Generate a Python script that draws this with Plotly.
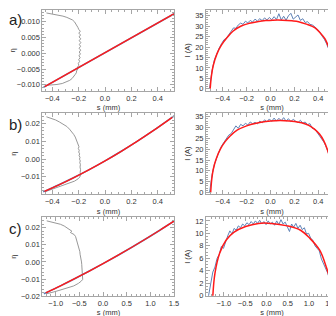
import plotly.graph_objects as go

# ---------------- data ----------------
# panel a, left: chirp line (blue data, red fit) and gray projected profile
a_line_s_blue = [-0.468, 0.532]
a_line_eta_blue = [-0.01084, 0.01274]
a_line_s_red = [-0.458, 0.522]
a_line_eta_red = [-0.0106, 0.0125]

a_gray_eta = [0.0128, 0.0125, 0.0122, 0.0118, 0.0114, 0.0110, 0.0106, 0.0100, 0.0094, 0.0088,
              0.0082, 0.0076, 0.0070, 0.0064, 0.0058, 0.0052, 0.0046, 0.0040, 0.0034, 0.0028,
              0.0022, 0.0016, 0.0010, 0.0004, -0.0002, -0.0008, -0.0014, -0.0020, -0.0026, -0.0032,
              -0.0038, -0.0044, -0.0050, -0.0056, -0.0062, -0.0068, -0.0074, -0.0080, -0.0086, -0.0092,
              -0.0096, -0.0099, -0.0101, -0.0102]
a_gray_s = [-0.445, -0.40, -0.36, -0.32, -0.29, -0.265, -0.248, -0.232, -0.222, -0.212,
            -0.206, -0.200, -0.188, -0.199, -0.186, -0.197, -0.185, -0.196, -0.184, -0.195,
            -0.186, -0.197, -0.185, -0.196, -0.187, -0.198, -0.189, -0.200, -0.193, -0.203,
            -0.199, -0.209, -0.207, -0.216, -0.218, -0.228, -0.238, -0.250, -0.268, -0.295,
            -0.325, -0.365, -0.41, -0.45]

# panel a, right: current profile
a_cur_s_blue = [-0.51, -0.49, -0.47, -0.45, -0.43, -0.41, -0.39, -0.37, -0.35, -0.33,
                -0.31, -0.29, -0.27, -0.25, -0.23, -0.21, -0.19, -0.17, -0.15, -0.13,
                -0.11, -0.09, -0.07, -0.05, -0.03, -0.01, 0.01, 0.03, 0.05, 0.07,
                0.09, 0.11, 0.13, 0.15, 0.17, 0.19, 0.21, 0.23, 0.25, 0.27,
                0.29, 0.31, 0.33, 0.35, 0.37, 0.39, 0.41, 0.43, 0.45, 0.47,
                0.49, 0.51, 0.53, 0.55, 0.562]
a_cur_I_blue = [0.2, 8.5, 13.8, 17.0, 19.5, 21.6, 23.5, 24.2, 26.0, 27.3,
                29.2, 29.0, 30.6, 31.5, 30.9, 32.4, 31.6, 32.8, 32.0, 33.4,
                32.5, 33.6, 32.7, 34.0, 33.0, 34.2, 33.1, 34.6, 33.2, 36.0,
                33.0, 34.8, 32.9, 35.0, 36.2, 33.4, 34.6, 35.4, 32.8, 33.6,
                31.8, 32.2, 30.9, 30.6, 29.8, 28.4, 27.5, 25.4, 23.8, 21.5,
                18.6, 14.5, 9.0, 2.5, 0.0]
a_cur_s_red = [-0.505, -0.495, -0.48, -0.45, -0.41, -0.36, -0.315, -0.25, -0.177, -0.1,
               -0.04, 0.02, 0.1, 0.18, 0.235, 0.3, 0.373, 0.42, 0.455, 0.49,
               0.51, 0.53, 0.54, 0.548]
a_cur_I_red = [0.0, 6.0, 11.0, 16.5, 21.0, 24.8, 27.6, 30.0, 31.4, 32.3,
               32.7, 32.9, 32.9, 32.6, 32.2, 31.0, 29.2, 26.5, 24.0, 19.5,
               15.5, 10.0, 6.0, 0.0]

# panel b, left
b_line_s_blue = [-0.47, -0.35, -0.24, -0.12, 0.0, 0.12, 0.24, 0.36, 0.53]
b_line_eta_blue = [-0.01859, -0.01457, -0.0106, -0.00596, -0.001, 0.00429, 0.0099, 0.01583, 0.02479]
b_line_s_red = [-0.46, -0.35, -0.24, -0.12, 0.0, 0.12, 0.24, 0.36, 0.51]
b_line_eta_red = [-0.01826, -0.01457, -0.0106, -0.00596, -0.001, 0.00429, 0.0099, 0.01583, 0.0237]

b_gray_eta = [0.0240, 0.0232, 0.0222, 0.0210, 0.0198, 0.0185, 0.0170, 0.0155, 0.0140, 0.0125,
              0.0110, 0.0095, 0.0080, 0.0070, 0.0060, 0.0050, 0.0040, 0.0030, 0.0020, 0.0010,
              0.0000, -0.0010, -0.0020, -0.0030, -0.0045, -0.0060, -0.0075, -0.0090, -0.0102, -0.0112,
              -0.0125, -0.0140, -0.0155, -0.0168, -0.0180, -0.0185]
b_gray_s = [-0.445, -0.41, -0.375, -0.345, -0.315, -0.29, -0.27, -0.252, -0.238, -0.226,
            -0.217, -0.211, -0.205, -0.198, -0.203, -0.196, -0.200, -0.193, -0.197, -0.190,
            -0.194, -0.188, -0.192, -0.187, -0.190, -0.186, -0.189, -0.186, -0.192, -0.205,
            -0.232, -0.285, -0.335, -0.38, -0.43, -0.455]

# panel b, right
b_cur_s_blue = [-0.51, -0.49, -0.47, -0.45, -0.43, -0.41, -0.39, -0.37, -0.35, -0.33,
                -0.31, -0.29, -0.27, -0.25, -0.23, -0.21, -0.19, -0.17, -0.15, -0.13,
                -0.11, -0.09, -0.07, -0.05, -0.03, -0.01, 0.01, 0.03, 0.05, 0.07,
                0.09, 0.11, 0.13, 0.15, 0.17, 0.19, 0.21, 0.23, 0.25, 0.27,
                0.29, 0.31, 0.33, 0.35, 0.37, 0.39, 0.41, 0.43, 0.45, 0.47,
                0.49, 0.51, 0.53, 0.545, 0.56]
b_cur_I_blue = [0.0, 8.0, 13.0, 16.5, 19.0, 21.5, 23.0, 24.8, 26.5, 27.2,
                28.9, 30.8, 29.6, 31.5, 30.8, 32.0, 31.2, 32.6, 31.8, 32.4,
                31.7, 33.0, 32.2, 33.6, 32.6, 34.0, 32.9, 34.4, 33.0, 34.3,
                33.2, 34.6, 33.0, 34.1, 32.8, 33.8, 33.0, 32.3, 33.4, 32.0,
                32.6, 31.4, 31.8, 29.6, 29.4, 27.8, 26.8, 25.2, 23.0, 20.5,
                17.5, 13.0, 8.0, 4.0, 0.0]
b_cur_s_red = [-0.501, -0.492, -0.48, -0.455, -0.42, -0.38, -0.34, -0.28, -0.2, -0.12,
               -0.04, 0.04, 0.12, 0.2, 0.26, 0.32, 0.37, 0.41, 0.445, 0.475,
               0.5, 0.515, 0.524, 0.529]
b_cur_I_red = [0.0, 6.0, 10.5, 15.5, 20.0, 23.5, 26.0, 28.8, 30.8, 32.0,
               32.8, 33.2, 33.2, 32.8, 32.2, 31.0, 29.2, 27.0, 24.0, 20.0,
               15.0, 10.0, 5.5, 0.0]

# panel c, left
c_line_s_blue = [-1.25, -0.9, -0.6, -0.3, 0.0, 0.3, 0.6, 0.9, 1.2, 1.53]
c_line_eta_blue = [-0.01862, -0.01397, -0.0098, -0.00548, -0.001, 0.00364, 0.00844, 0.0134, 0.01852, 0.02434]
c_line_s_red = [-1.21, -0.9, -0.6, -0.3, 0.0, 0.3, 0.6, 0.9, 1.2, 1.5]
c_line_eta_red = [-0.0181, -0.01397, -0.0098, -0.00548, -0.001, 0.00364, 0.00844, 0.0134, 0.01852, 0.0238]

c_gray_eta = [0.0240, 0.0235, 0.0228, 0.0220, 0.0210, 0.0200, 0.0190, 0.0180, 0.0172, 0.0160,
              0.0148, 0.0135, 0.0120, 0.0105, 0.0090, 0.0075, 0.0060, 0.0045, 0.0030, 0.0015,
              0.0000, -0.0015, -0.0030, -0.0045, -0.0060, -0.0075, -0.0090, -0.0102, -0.0112, -0.0125,
              -0.0140, -0.0155, -0.0168, -0.0178, -0.0186]
c_gray_s = [-1.19, -1.10, -1.00, -0.90, -0.82, -0.76, -0.72, -0.66, -0.69, -0.61,
            -0.58, -0.565, -0.55, -0.535, -0.52, -0.505, -0.49, -0.485, -0.47, -0.465,
            -0.455, -0.45, -0.445, -0.44, -0.435, -0.43, -0.425, -0.43, -0.46, -0.52,
            -0.62, -0.78, -0.95, -1.08, -1.20]

# panel c, right
c_cur_s_blue = [-1.36, -1.31, -1.26, -1.21, -1.16, -1.11, -1.06, -1.01, -0.96, -0.91,
                -0.86, -0.81, -0.76, -0.71, -0.66, -0.61, -0.56, -0.51, -0.46, -0.41,
                -0.36, -0.31, -0.26, -0.21, -0.16, -0.11, -0.06, -0.01, 0.04, 0.09,
                0.14, 0.19, 0.24, 0.29, 0.34, 0.39, 0.44, 0.49, 0.54, 0.59,
                0.64, 0.69, 0.74, 0.79, 0.84, 0.89, 0.94, 0.99, 1.04, 1.09,
                1.14, 1.19, 1.24, 1.29, 1.34, 1.39, 1.44, 1.49, 1.54, 1.59, 1.61]
c_cur_I_blue = [0.0, 1.8, 3.8, 4.6, 6.0, 6.6, 7.9, 7.6, 8.8, 9.6,
                10.4, 9.9, 10.8, 10.5, 11.2, 10.9, 11.5, 11.2, 11.7, 11.4,
                11.9, 11.5, 12.0, 11.6, 12.1, 11.5, 11.9, 11.4, 12.0, 11.5,
                11.8, 11.3, 12.0, 11.4, 12.2, 11.5, 11.8, 11.0, 10.3, 11.5,
                11.0, 11.6, 10.8, 11.3, 10.6, 10.9, 9.9, 10.0, 9.2, 8.9,
                8.0, 7.6, 7.2, 5.9, 5.2, 4.4, 3.6, 2.4, 1.2, 0.4, 0.0]
c_cur_s_red = [-1.26, -1.21, -1.10, -0.95, -0.76, -0.49, -0.19, 0.115, 0.49, 0.80,
               1.02, 1.25, 1.40, 1.49, 1.53]
c_cur_I_red = [0.0, 3.6, 6.8, 8.9, 10.2, 11.1, 11.6, 11.6, 11.2, 10.5,
               9.2, 7.3, 4.7, 2.6, 0.0]

# ---------------- figure ----------------
W, H = 336, 316
BLUE = "#5e81b5"
RED = "#ff1a1a"
GRAY = "#8c8c8c"
FRAME = "#a6a6a6"
FONT = "Liberation Sans, Arial, sans-serif"
TXT = "#333333"

fig = go.Figure()

def add(xa, ya, s, v, color, width, shape="linear"):
    fig.add_trace(go.Scatter(x=s, y=v, mode="lines", xaxis=xa, yaxis=ya,
                             line=dict(color=color, width=width, shape=shape),
                             showlegend=False, hoverinfo="skip"))

# left panels
add("x", "y", a_gray_s, a_gray_eta, GRAY, 0.9)
add("x", "y", a_line_s_blue, a_line_eta_blue, BLUE, 1.6)
add("x", "y", a_line_s_red, a_line_eta_red, RED, 1.4)
add("x3", "y3", b_gray_s, b_gray_eta, GRAY, 0.9)
add("x3", "y3", b_line_s_blue, b_line_eta_blue, BLUE, 1.6, "spline")
add("x3", "y3", b_line_s_red, b_line_eta_red, RED, 1.4, "spline")
add("x5", "y5", c_gray_s, c_gray_eta, GRAY, 0.9)
add("x5", "y5", c_line_s_blue, c_line_eta_blue, BLUE, 1.6, "spline")
add("x5", "y5", c_line_s_red, c_line_eta_red, RED, 1.4, "spline")
# right panels
add("x2", "y2", a_cur_s_blue, a_cur_I_blue, BLUE, 1.0)
add("x2", "y2", a_cur_s_red, a_cur_I_red, RED, 1.5, "spline")
add("x4", "y4", b_cur_s_blue, b_cur_I_blue, BLUE, 1.0)
add("x4", "y4", b_cur_s_red, b_cur_I_red, RED, 1.5, "spline")
add("x6", "y6", c_cur_s_blue, c_cur_I_blue, BLUE, 1.0)
add("x6", "y6", c_cur_s_red, c_cur_I_red, RED, 1.5, "spline")

def px_x(a, b):
    return [a / W, b / W]

def px_y(top, bottom):
    return [1 - bottom / H, 1 - top / H]

def axis(domain, rng, dtick, minor_dtick, fmt, anchor, title=None, standoff=2):
    d = dict(domain=domain, range=rng, anchor=anchor, dtick=dtick, tick0=0,
             tickformat=fmt, showline=True, linecolor=FRAME, linewidth=1, mirror="ticks",
             ticks="inside", ticklen=4, tickcolor=FRAME, tickwidth=0.8,
             minor=dict(ticks="inside", ticklen=2, tickcolor=FRAME, dtick=minor_dtick, tick0=0),
             showgrid=False, zeroline=False,
             tickfont=dict(family=FONT, size=7.5, color=TXT))
    if title:
        d["title"] = dict(text=title, font=dict(family=FONT, size=7.5, color=TXT),
                          standoff=standoff)
    return d

XL = px_x(35, 169)
XR = px_x(201, 335)
YA = px_y(1, 83)
YB = px_y(106, 188)
YC = px_y(211.5, 292)

fig.update_layout(
    width=W, height=H, margin=dict(l=0, r=0, t=0, b=0),
    paper_bgcolor="white", plot_bgcolor="white",
    xaxis=axis(XL, [-0.475, 0.527], 0.2, 0.05, ".1f", "y", "s (mm)", 3),
    yaxis=axis(YA, [-0.01188, 0.01375], 0.005, 0.001, ".3f", "x", "η", 3),
    xaxis2=axis(XR, [-0.54, 0.565], 0.2, 0.05, ".1f", "y2", "s (mm)", 3),
    yaxis2=axis(YA, [-0.95, 37.8], 5, 1, "d", "x2", "I (A)", 3),
    xaxis3=axis(XL, [-0.475, 0.527], 0.2, 0.05, ".1f", "y3", "s (mm)", 3),
    yaxis3=axis(YB, [-0.0198, 0.02597], 0.01, 0.002, ".2f", "x3", "η", 3),
    xaxis4=axis(XR, [-0.54, 0.565], 0.2, 0.05, ".1f", "y4", "s (mm)", 3),
    yaxis4=axis(YB, [-0.73, 36.6], 5, 1, "d", "x4", "I (A)", 3),
    xaxis5=axis(XL, [-1.28, 1.51], 0.5, 0.1, ".1f", "y5", "s (mm)", 0),
    yaxis5=axis(YC, [-0.02011, 0.02617], 0.01, 0.002, ".2f", "x5", "η", 3),
    xaxis6=axis(XR, [-1.42, 1.68], 0.5, 0.1, ".1f", "y6", "s (mm)", 0),
    yaxis6=axis(YC, [-0.1, 12.6], 2, 0.5, "d", "x6", "I (A)", 3),
)

for label, ypx in [("a)", 11), ("b)", 117), ("c)", 223)]:
    fig.add_annotation(text=label, x=0, y=1 - ypx / H, xref="paper", yref="paper",
                       xanchor="left", yanchor="middle", showarrow=False, xshift=-1,
                       font=dict(family=FONT, size=15, color="#222222"))

fig.write_html("out.html")
